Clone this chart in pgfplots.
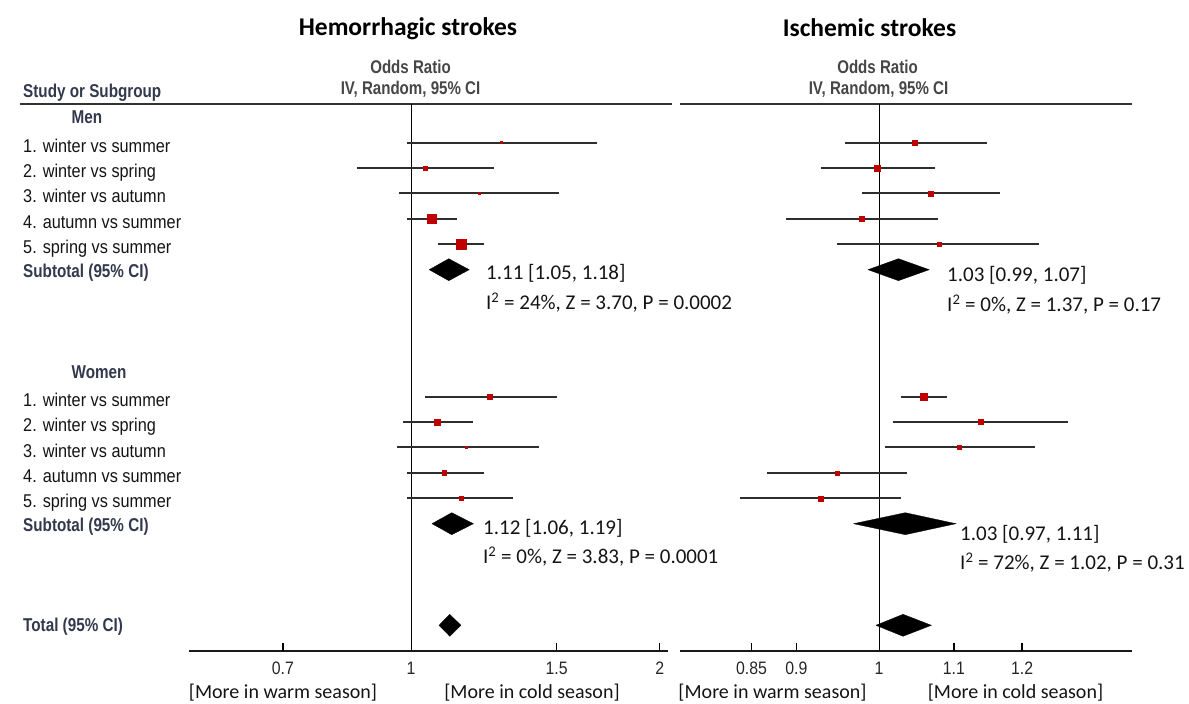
\documentclass[border=0pt]{standalone}
\usepackage{fontspec}
\setmainfont{Carlito}
\newfontfamily\lab[FakeStretch=0.88]{Liberation Sans}
\newfontfamily\labn[FakeStretch=0.82]{Liberation Sans}
\usepackage{pgfplots}
\pgfplotsset{compat=1.18}
\definecolor{mk}{HTML}{C00000}
\definecolor{hd}{HTML}{33394D}
\definecolor{gr}{HTML}{464646}
\definecolor{tx}{HTML}{141414}
\pgfplotsset{
  ci/.style={color=black!82, line width=2pt, forget plot},
  pt/.style={only marks, mark=square*, color=mk, mark size=#1, forget plot},
  dia/.style={fill=black, draw=black, line width=0.3pt, forget plot},
  vref/.style={black, line width=0.9pt, forget plot},
  tk/.style={black, line width=1.3pt, forget plot}
}
\begin{document}
\begin{tikzpicture}
\begin{scope}[x=1pt,y=1pt]
\path (0,0) rectangle (1189,704);
% header rules
\draw[line width=1.8pt, black!80] (20,600) -- (672,600);
\draw[line width=1.8pt, black!80] (680,600) -- (1132,600);
% titles
\node[anchor=base, inner sep=0pt, font=\fontsize{25.5}{30}\selectfont\bfseries] at (408,668.3) {Hemorrhagic strokes};
\node[anchor=base, inner sep=0pt, font=\fontsize{25.5}{30}\selectfont\bfseries] at (869.5,667.3) {Ischemic strokes};
\node[anchor=base, inner sep=0pt, font=\labn\bfseries\fontsize{18.4}{22}\selectfont, text=gr] at (410.5,630.5) {Odds Ratio};
\node[anchor=base, inner sep=0pt, font=\labn\bfseries\fontsize{18.4}{22}\selectfont, text=gr] at (410.5,609) {IV, Random, 95\% CI};
\node[anchor=base, inner sep=0pt, font=\labn\bfseries\fontsize{18.4}{22}\selectfont, text=gr] at (877.5,630.5) {Odds Ratio};
\node[anchor=base, inner sep=0pt, font=\labn\bfseries\fontsize{18.4}{22}\selectfont, text=gr] at (878.5,609) {IV, Random, 95\% CI};
% left column labels
\begin{scope}[every node/.style={anchor=base west, inner sep=0pt}]
\node[font=\labn\bfseries\fontsize{18.6}{22}\selectfont, text=hd] at (23,606) {Study or Subgroup};
\node[font=\labn\bfseries\fontsize{18.6}{22}\selectfont, text=hd] at (71.5,580) {Men};
\node[font=\labn\bfseries\fontsize{18.6}{22}\selectfont, text=hd] at (71.5,325.6) {Women};
\node[font=\labn\bfseries\fontsize{18.6}{22}\selectfont, text=hd] at (23,426.8) {Subtotal (95\% CI)};
\node[font=\labn\bfseries\fontsize{18.6}{22}\selectfont, text=hd] at (23,172.6) {Subtotal (95\% CI)};
\node[font=\labn\bfseries\fontsize{18.6}{22}\selectfont, text=hd] at (23,72.3) {Total (95\% CI)};
\foreach \y/\t in {551.8/{1. winter vs summer}, 526.4/{2. winter vs spring}, 501.0/{3. winter vs autumn}, 475.6/{4. autumn vs summer}, 450.2/{5. spring vs summer},
                   297.6/{1. winter vs summer}, 272.2/{2. winter vs spring}, 246.8/{3. winter vs autumn}, 221.4/{4. autumn vs summer}, 196.0/{5. spring vs summer}}
  \node[font=\lab\fontsize{18.5}{22}\selectfont, text=tx] at (23,\y) {\t};
% statistics
\node[font=\fontsize{21}{25}\selectfont, text=tx] at (486,424) {1.11 [1.05, 1.18]};
\node[font=\fontsize{21}{25}\selectfont, text=tx] at (486,394) {I\textsuperscript{2} = 24\%, Z = 3.70, P = 0.0002};
\node[font=\fontsize{21}{25}\selectfont, text=tx] at (483,169) {1.12 [1.06, 1.19]};
\node[font=\fontsize{21}{25}\selectfont, text=tx] at (483,140) {I\textsuperscript{2} = 0\%, Z = 3.83, P = 0.0001};
\node[font=\fontsize{21}{25}\selectfont, text=tx] at (947,422) {1.03 [0.99, 1.07]};
\node[font=\fontsize{21}{25}\selectfont, text=tx] at (947,392) {I\textsuperscript{2} = 0\%, Z = 1.37, P = 0.17};
\node[font=\fontsize{21}{25}\selectfont, text=tx] at (960,163) {1.03 [0.97, 1.11]};
\node[font=\fontsize{21}{25}\selectfont, text=tx] at (960,134) {I\textsuperscript{2} = 72\%, Z = 1.02, P = 0.31};
\end{scope}
% bottom direction labels
\begin{scope}[every node/.style={anchor=base, inner sep=0pt, font=\fontsize{20}{24}\selectfont, text=tx}]
\node at (283,5) {[More in warm season]};
\node at (532,5) {[More in cold season]};
\node at (772.5,5) {[More in warm season]};
\node at (1015.5,5) {[More in cold season]};
\end{scope}
\end{scope}

% ---------------- Hemorrhagic strokes ----------------
\begin{axis}[at={(189pt,53pt)}, anchor=south west, scale only axis, width=479pt, height=547pt,
  xmode=log, xmin=0.5388, xmax=2.046, ymin=-20.0118, ymax=1.5236,
  axis x line=bottom, axis y line=none,
  x axis line style={-, line width=1.6pt, black!90},
  major tick length=0pt,
  xtick={0.7,1,1.5,2}, xticklabels={0.7,1,1.5,2},
  xticklabel style={font=\lab\fontsize{18}{21}\selectfont, anchor=base, yshift=-24pt, inner sep=0pt, text=black!85},
  clip=false]
\addplot[vref] coordinates {(1,1.5236) (1,-20.0118)};
% tick marks
\addplot[tk] coordinates {(0.7,-20.0118) (0.7,-19.71)};
\addplot[tk] coordinates {(1.5,-20.0118) (1.5,-19.71)};
\addplot[tk] coordinates {(2,-20.0118) (2,-19.71)};
% Men
\addplot[ci] coordinates {(0.99,0) (1.68,0)};
\addplot[pt=1.0pt] coordinates {(1.285,0)};
\addplot[ci] coordinates {(0.86,-1) (1.26,-1)};
\addplot[pt=2.2pt] coordinates {(1.04,-1)};
\addplot[ci] coordinates {(0.967,-2) (1.51,-2)};
\addplot[pt=1.0pt] coordinates {(1.21,-2)};
\addplot[ci] coordinates {(0.989,-3) (1.137,-3)};
\addplot[pt=4.3pt] coordinates {(1.06,-3)};
\addplot[ci] coordinates {(1.078,-4) (1.225,-4)};
\addplot[pt=4.8pt] coordinates {(1.15,-4)};
\addplot[dia] coordinates {(1.052,-5) (1.111,-4.567) (1.176,-5) (1.111,-5.433) (1.052,-5)};
% Women
\addplot[ci] coordinates {(1.04,-10) (1.50,-10)};
\addplot[pt=2.4pt] coordinates {(1.246,-10)};
\addplot[ci] coordinates {(0.978,-11) (1.19,-11)};
\addplot[pt=3.0pt] coordinates {(1.075,-11)};
\addplot[ci] coordinates {(0.962,-12) (1.43,-12)};
\addplot[pt=0.9pt] coordinates {(1.166,-12)};
\addplot[ci] coordinates {(0.989,-13) (1.225,-13)};
\addplot[pt=2.2pt] coordinates {(1.096,-13)};
\addplot[ci] coordinates {(0.989,-14) (1.33,-14)};
\addplot[pt=2.0pt] coordinates {(1.15,-14)};
\addplot[dia] coordinates {(1.06,-15) (1.12,-14.567) (1.19,-15) (1.12,-15.433) (1.06,-15)};
% Total
\addplot[dia] coordinates {(1.081,-19) (1.114,-18.567) (1.149,-19) (1.114,-19.433) (1.081,-19)};
\end{axis}

% ---------------- Ischemic strokes ----------------
\begin{axis}[at={(680pt,53pt)}, anchor=south west, scale only axis, width=452pt, height=547pt,
  xmode=log, xmin=0.7761, xmax=1.3803, ymin=-20.0118, ymax=1.5236,
  axis x line=bottom, axis y line=none,
  x axis line style={-, line width=1.6pt, black!90},
  major tick length=0pt,
  xtick={0.85,0.9,1,1.1,1.2}, xticklabels={0.85,0.9,1,1.1,1.2},
  xticklabel style={font=\lab\fontsize{18}{21}\selectfont, anchor=base, yshift=-24pt, inner sep=0pt, text=black!85},
  clip=false]
\addplot[vref] coordinates {(1,1.5236) (1,-20.0118)};
% tick marks
\addplot[tk] coordinates {(0.85,-20.0118) (0.85,-19.71)};
\addplot[tk] coordinates {(0.9,-20.0118) (0.9,-19.71)};
\addplot[tk] coordinates {(1.1,-20.0118) (1.1,-19.71)};
\addplot[tk] coordinates {(1.2,-20.0118) (1.2,-19.71)};
% Men
\addplot[ci] coordinates {(0.958,0) (1.147,0)};
\addplot[pt=2.5pt] coordinates {(1.047,0)};
\addplot[ci] coordinates {(0.929,-1) (1.074,-1)};
\addplot[pt=2.8pt] coordinates {(0.998,-1)};
\addplot[ci] coordinates {(0.979,-2) (1.167,-2)};
\addplot[pt=2.3pt] coordinates {(1.068,-2)};
\addplot[ci] coordinates {(0.888,-3) (1.078,-3)};
\addplot[pt=2.5pt] coordinates {(0.978,-3)};
\addplot[ci] coordinates {(0.948,-4) (1.226,-4)};
\addplot[pt=2.0pt] coordinates {(1.079,-4)};
\addplot[dia] coordinates {(0.986,-5) (1.025,-4.567) (1.066,-5) (1.025,-5.433) (0.986,-5)};
% Women
\addplot[ci] coordinates {(1.028,-10) (1.09,-10)};
\addplot[pt=3.5pt] coordinates {(1.059,-10)};
\addplot[ci] coordinates {(1.018,-11) (1.273,-11)};
\addplot[pt=2.5pt] coordinates {(1.138,-11)};
\addplot[ci] coordinates {(1.007,-12) (1.22,-12)};
\addplot[pt=2.0pt] coordinates {(1.108,-12)};
\addplot[ci] coordinates {(0.867,-13) (1.036,-13)};
\addplot[pt=2.0pt] coordinates {(0.948,-13)};
\addplot[ci] coordinates {(0.838,-14) (1.029,-14)};
\addplot[pt=2.5pt] coordinates {(0.928,-14)};
\addplot[dia] coordinates {(0.968,-15) (1.034,-14.567) (1.103,-15) (1.034,-15.433) (0.968,-15)};
% Total
\addplot[dia] coordinates {(0.996,-19) (1.031,-18.567) (1.069,-19) (1.031,-19.433) (0.996,-19)};
\end{axis}
\end{tikzpicture}
\end{document}
